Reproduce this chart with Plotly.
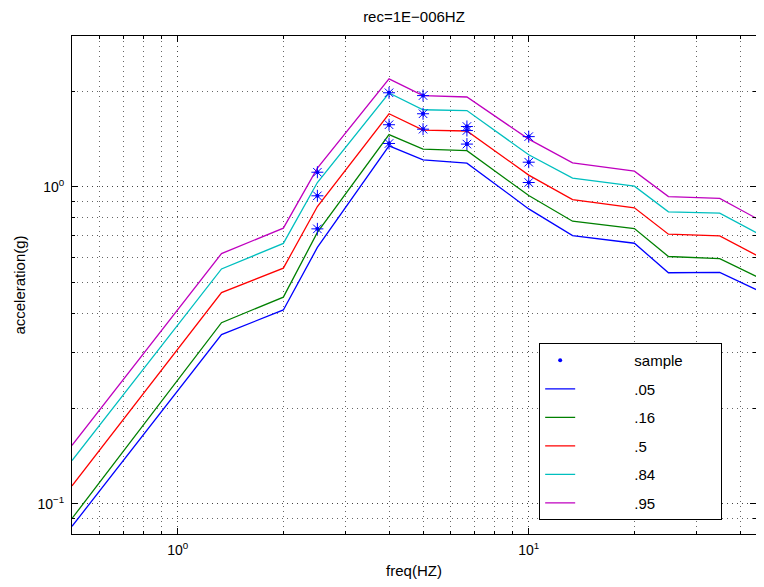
import plotly.graph_objects as go
import math

freq = [0.5, 1.333, 2, 2.5, 4, 5, 6.667, 10, 13.33, 20, 25, 35, 50]
p05 = [0.085, 0.342, 0.409, 0.644, 1.347, 1.217, 1.188, 0.852, 0.702, 0.664, 0.536, 0.537, 0.446]
p16 = [0.090, 0.373, 0.449, 0.718, 1.462, 1.315, 1.300, 0.939, 0.779, 0.739, 0.603, 0.594, 0.490]
p50 = [0.114, 0.464, 0.554, 0.867, 1.700, 1.510, 1.500, 1.089, 0.912, 0.859, 0.709, 0.700, 0.569]
p84 = [0.137, 0.551, 0.663, 1.032, 1.976, 1.750, 1.740, 1.262, 1.065, 1.005, 0.834, 0.826, 0.669]
p95 = [0.153, 0.616, 0.741, 1.146, 2.190, 1.940, 1.920, 1.414, 1.190, 1.121, 0.932, 0.919, 0.742]

sample_f = [2.5, 2.5, 2.5, 4, 4, 4, 5, 5, 5, 6.667, 6.667, 6.667, 10, 10, 10]
sample_a = [1.112, 0.937, 0.737, 1.98, 1.57, 1.37, 1.94, 1.70, 1.52, 1.55, 1.505, 1.364, 1.44, 1.196, 1.032]

series_names = [".05", ".16", ".5", ".84", ".95"]
series_vals = [p05, p16, p50, p84, p95]
series_colors = ["#0000ff", "#008000", "#ff0000", "#00bfbf", "#bf00bf"]

x_ticks = [1, 10]
x_ticktext = ["10<sup>0</sup>", "10<sup>1</sup>"]
y_ticks = [0.1, 1]
y_ticktext = ["10<sup>\u22121</sup>", "10<sup>0</sup>"]

FONT = "Liberation Sans, Arial, Helvetica, sans-serif"
PAD = "\u00a0" * 13

fig = go.Figure()

fig.add_trace(go.Scatter(
    x=sample_f, y=sample_a, mode="markers", name=PAD + "sample" + "\u00a0" * 8,
    legendgroup="s",
    marker=dict(symbol="circle", size=4, color="#0000ff", line=dict(width=0)),
))

for name, vals, col in zip(series_names, series_vals, series_colors):
    fig.add_trace(go.Scatter(
        x=freq, y=vals, mode="lines", name=PAD + name, legendgroup=name,
        line=dict(color=col, width=1.3),
    ))

fig.add_trace(go.Scatter(
    x=sample_f, y=sample_a, mode="markers", showlegend=False,
    marker=dict(symbol="asterisk-open", size=10, color="#0000ff",
                line=dict(width=1, color="#0000ff")),
))

grid_common = dict(
    showline=True, linecolor="black", linewidth=1, mirror="ticks",
    ticks="inside", ticklen=6, tickcolor="black",
    showgrid=True, gridcolor="#444", griddash="1px,4px", gridwidth=1,
    zeroline=False, automargin=False,
    tickfont=dict(family=FONT, size=14, color="black"),
)

fig.update_xaxes(
    type="log", range=[math.log10(0.5), math.log10(44.4)],
    tickvals=x_ticks, ticktext=x_ticktext, ticklabelstandoff=3,
    minor=dict(dtick="D1", ticks="inside", ticklen=3, tickcolor="black",
               showgrid=True, gridcolor="#666", griddash="1px,4px", gridwidth=1),
    title=dict(text="freq(HZ)", font=dict(family=FONT, size=15, color="black"), standoff=17),
    **grid_common,
)
fig.update_yaxes(
    type="log", range=[math.log10(0.0804), math.log10(2.99)],
    tickvals=y_ticks, ticktext=y_ticktext, ticklabelstandoff=4,
    minor=dict(dtick="D1", ticks="inside", ticklen=3, tickcolor="black",
               showgrid=True, gridcolor="#666", griddash="1px,4px", gridwidth=1),
    title=dict(text="acceleration(g)", font=dict(family=FONT, size=15, color="black"), standoff=8),
    **grid_common,
)

fig.update_layout(
    width=748, height=571,
    margin=dict(l=64, r=0, t=28, b=45, autoexpand=False),
    paper_bgcolor="white", plot_bgcolor="white",
    title=dict(text="rec=1E\u2212006HZ", x=0.5, xref="paper", y=0.984, yref="container",
               xanchor="center", yanchor="middle",
               font=dict(family=FONT, size=15, color="black")),
    legend=dict(
        x=0.683, y=0.028, xanchor="left", yanchor="bottom",
        bgcolor="white", bordercolor="black", borderwidth=1,
        font=dict(family=FONT, size=15, color="black"),
        tracegroupgap=6, itemwidth=30,
    ),
    showlegend=True,
)

fig.write_html("out.html")
